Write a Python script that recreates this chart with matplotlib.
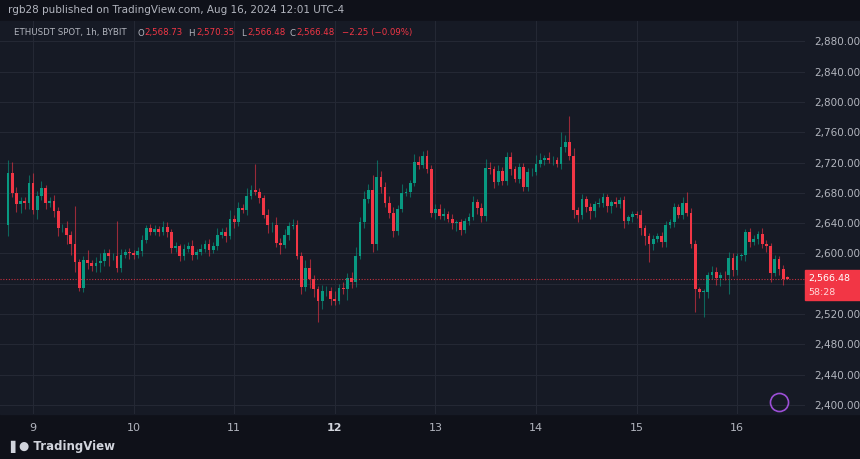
import matplotlib
matplotlib.use("Agg")
import matplotlib.pyplot as plt
from matplotlib.patches import Rectangle

first_open = 2637
closes = [2706,2680,2665,2669,2667,2693,2657,2676,2686,2667,2669,2656,2633,2633,2624,2612,2589,2555,2591,2587,2583,2587,2590,2600,
2596,2597,2581,2598,2602,2601,2598,2603,2618,2633,2628,2632,2628,2635,2628,2607,2610,2596,2606,2610,2598,2602,2606,2613,
2604,2610,2624,2629,2623,2646,2642,2660,2657,2676,2684,2681,2673,2651,2637,2638,2614,2611,2624,2636,2638,2597,2556,2581,
2566,2553,2537,2550,2551,2540,2537,2554,2553,2568,2562,2597,2642,2672,2684,2613,2701,2688,2666,2653,2630,2659,2680,2681,
2693,2721,2717,2729,2712,2654,2659,2650,2652,2646,2640,2641,2631,2643,2648,2668,2660,2649,2713,2711,2695,2709,2696,2728,
2711,2699,2714,2688,2707,2707,2718,2723,2726,2723,2723,2718,2740,2747,2729,2657,2651,2672,2661,2656,2665,2667,2674,
2663,2668,2665,2671,2643,2648,2652,2651,2634,2623,2613,2619,2623,2615,2637,2641,2661,2651,2667,2654,2613,2553,2549,2549,
2571,2576,2567,2572,2571,2594,2578,2596,2598,2628,2615,2619,2626,2613,2610,2574,2593,2580,2566,2566.48]
last_open = 2568.73
last_high = 2570.35

wick_up = [17,15,8,6,5,10,13,6,10,4,5,8,5,6,10,6,51,4,6,14,5,8,10,6,
6,4,46,8,4,5,3,6,6,4,6,6,4,8,6,4,5,3,6,5,8,4,6,5,
6,5,10,4,6,12,5,8,5,10,6,34,6,4,8,4,10,6,8,5,8,6,5,10,
12,6,4,8,6,5,10,6,8,6,8,12,6,10,8,20,22,8,6,10,8,5,12,6,
4,10,8,6,8,5,6,6,8,4,6,3,5,4,6,8,4,6,12,8,5,8,5,6,
6,4,6,5,6,6,12,10,4,8,6,4,21,10,35,10,5,6,4,6,4,6,6,
4,3,6,4,5,3,4,4,6,3,4,6,4,5,6,4,5,4,8,14,6,5,3,4,
4,8,6,3,5,8,6,4,3,4,5,6,4,8,5,4,5,3,5,last_high - last_open]
wick_dn = [14,6,10,12,8,8,5,12,6,8,6,8,10,5,12,14,14,4,6,8,6,8,12,6,
12,4,6,6,4,8,5,4,6,4,3,4,5,4,6,6,5,6,5,4,6,5,4,4,
8,4,6,4,8,4,8,6,4,6,4,4,6,4,10,8,6,12,4,6,4,4,10,6,
12,10,27,10,6,8,5,4,6,15,8,6,4,8,6,11,8,8,4,6,8,6,4,4,
6,4,6,4,6,6,8,4,6,4,8,10,6,4,5,4,8,8,6,6,8,4,6,5,
8,4,6,6,6,5,4,4,6,4,6,4,6,6,5,10,10,6,6,10,8,4,5,
8,10,4,5,10,4,6,4,10,12,24,8,4,6,6,4,6,4,5,5,6,30,8,33,
8,5,8,10,6,25,8,6,4,8,6,4,6,6,8,12,4,8,8,0]

day_ticks = [6, 30, 54, 78, 102, 126, 150, 174]
day_labels = ["9", "10", "11", "12", "13", "14", "15", "16"]
price_ticks = list(range(2400, 2881, 40))
last_price = 2566.48

BG = "#161a25"
GREEN = "#089981"
RED = "#f23645"
GRID = "#242834"
TXT = "#b2b5be"

opens = [first_open] + closes[:-1]
opens[-1] = last_open
highs = [max(o, c) + u for o, c, u in zip(opens, closes, wick_up)]
lows = [min(o, c) - d for o, c, d in zip(opens, closes, wick_dn)]

fig = plt.figure(figsize=(8.6, 4.6), dpi=100, facecolor="#0f1119")
ax = fig.add_axes([0, 45/460, 805/860, 393/460])
ax.set_facecolor(BG)
fig.patches.append(Rectangle((0, 45/460), 1, 393/460, transform=fig.transFigure, color=BG, zorder=-1))

for i, (o, h, l, c) in enumerate(zip(opens, highs, lows, closes)):
    col = GREEN if c >= o else RED
    ax.vlines(i, l, h, color=col, lw=0.8, alpha=0.6)
    ax.add_patch(Rectangle((i - 0.33, min(o, c)), 0.66, max(abs(c - o), 0.8), color=col, lw=0))

ax.set_xlim(-1.9, 190.2)
ax.set_ylim(2388, 2907)
for p in price_ticks:
    ax.axhline(p, color=GRID, lw=0.8, zorder=0)
for d in day_ticks:
    ax.axvline(d, color=GRID, lw=0.8, zorder=0)
ax.axhline(last_price, color=RED, lw=0.8, ls=(0, (1, 1.5)), alpha=0.8)
for s in ax.spines.values():
    s.set_visible(False)
ax.set_xticks([]); ax.set_yticks([])

for p in price_ticks:
    ax.text(1.012, (p - 2388) / (2907 - 2388), f"{p:,.2f}", transform=ax.transAxes,
            color=TXT, fontsize=7.5, va="center", ha="left")
ypix = 45 + (last_price - 2388) / (2907 - 2388) * 393
fig.patches.append(Rectangle((805/860, (ypix - 21)/460), 55/860, 30/460,
                             transform=fig.transFigure, color=RED, zorder=3))
fig.text(808/860, (ypix + 1)/460, f"{last_price:,.2f}", color="white", fontsize=6.8, va="center", zorder=4)
fig.text(808/860, (ypix - 13)/460, "58:28", color="#ffd6d9", fontsize=6.8, va="center", zorder=4)

for d, lab in zip(day_ticks, day_labels):
    ax.text(d, 2378, lab, color="#d1d4dc" if lab == "12" else TXT, fontsize=8, ha="center", va="top",
            fontweight="bold" if lab == "12" else "normal", clip_on=False)

fig.text(8/860, 1 - 10/460, "rgb28 published on TradingView.com, Aug 16, 2024 12:01 UTC-4",
         color=TXT, fontsize=7.5, va="center")
yh = 1 - 33/460
fig.text(14/860, yh, "ETHUSDT SPOT, 1h, BYBIT", color=TXT, fontsize=6.2, va="center")
for x, s, col in [(137, "O", TXT), (144, "2,568.73", RED), (188, "H", TXT), (196, "2,570.35", RED),
                  (241, "L", TXT), (247, "2,566.48", RED), (289, "C", TXT), (296, "2,566.48", RED),
                  (342, "\u22122.25 (\u22120.09%)", RED)]:
    fig.text(x/860, yh, s, color=col, fontsize=6.2, va="center")

fig.text(10/860, 13/460, "\u258c\u25cf TradingView", color="#d1d4dc", fontsize=8.5, va="center", fontweight="bold")
ax.plot([184], [2404], marker="o", ms=13, mfc="none", mec="#9c4fd6", mew=1.2)

fig.savefig("out.png", dpi=100, facecolor=fig.get_facecolor())
